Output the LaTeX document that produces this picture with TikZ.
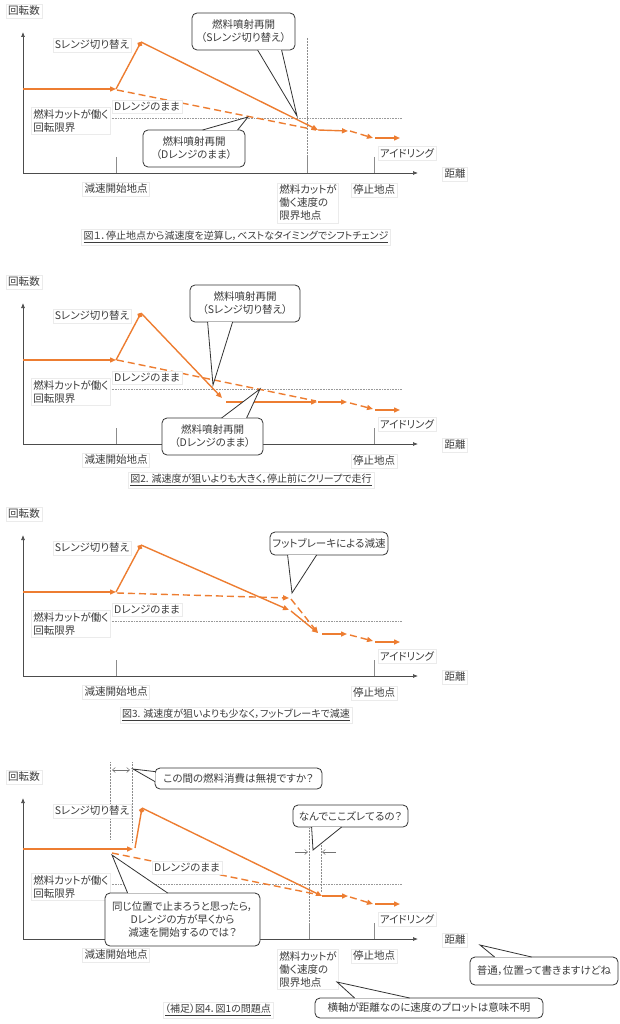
\documentclass[tikz,border=0pt]{standalone}
\usepackage{fontspec}
\setmainfont{Noto Sans CJK JP}[RawFeature=+palt]
\usetikzlibrary{arrows.meta}
\definecolor{ofcorange}{RGB}{237,125,49}
\definecolor{inkgray}{RGB}{60,60,60}
\begin{document}
\begin{tikzpicture}[x=1pt,y=-1pt,
   font=\fontsize{10.5}{13}\selectfont,text=inkgray,
   lbl/.style={draw=black!8,fill=white,inner sep=2pt,align=left},
   figcap/.style={draw=black!8,fill=white,inner sep=2pt,font=\fontsize{10}{12}\selectfont},
   bubble/.style={draw=black!80,fill=white,rounded corners=5pt,line width=0.8pt,align=center,inner sep=1pt},
   pointer/.style={draw=black!80,fill=white,line width=0.8pt},
   axisline/.style={draw=black!70,line width=0.7pt,-{Latex[length=5pt,width=4pt]}},
   tickmark/.style={draw=black!45,line width=0.7pt},
   limit/.style={draw=black!40,densely dotted,line width=0.6pt},
   guide/.style={draw=black!45,densely dotted,line width=0.5pt},
   gapmark/.style={draw=black!55,line width=0.5pt,{Straight Barb[length=3pt,width=5pt]}-{Straight Barb[length=3pt,width=5pt]}},
   inmark/.style={draw=black!55,line width=0.5pt,-{Straight Barb[length=3pt,width=5pt]}},
   run/.style={draw=ofcorange,line width=1.4pt,-{Triangle[length=6pt,width=5pt]}},
   coast/.style={run,dash pattern=on 7pt off 4pt},
   dline/.style={draw=ofcorange,line width=1.4pt,dash pattern=on 7pt off 4pt},
   peak/.style={draw=ofcorange,line width=1.4pt,-{Circle[length=5pt]}}]
\useasboundingbox (0,0) rectangle (620,1024);
\foreach \p/\dy in {1/0,2/271,3/503,4/766}{
   \begin{scope}[shift={(0,\dy)}]
   \coordinate (o\p) at (23,173);
   \coordinate (ytop\p) at (23,32);
   \coordinate (xend\p) at (418,173);
   \draw[axisline] (o\p) -- (ytop\p);
   \draw[axisline] (o\p) -- (xend\p);
   \draw[tickmark] (116,157) -- (116,173);
   \draw[tickmark] (374,157) -- (374,173);
   \draw[limit] (110,118) -- (402,118);
   \end{scope}
}
\begin{scope}
   \draw[guide] (307,38) -- (307,173);
   \draw[tickmark] (307,157) -- (307,173);
   \draw[run] (23,89) -- (116,89);
   \draw[peak] (116,89) -- (141,42);
   \draw[dline] (117,90) -- (316,130);
   \draw[run] (141,42) -- (318,130);
   \draw[run] (318,130) -- (348,131);
   \draw[coast] (350,131) -- (373,138);
   \draw[run] (375,138) -- (400,138);
\end{scope}
\begin{scope}[shift={(0,271)}]
   \draw[run] (23,89) -- (116,89);
   \draw[peak] (116,89) -- (141,42);
   \draw[dline] (117,89) -- (316,130);
   \draw[run] (141,42) -- (222,127);
   \draw[run] (226,131) -- (317,131);
   \draw[run] (318,131) -- (347,131);
   \draw[coast] (350,132) -- (373,138);
   \draw[run] (375,139) -- (400,139);
\end{scope}
\begin{scope}[shift={(0,503)}]
   \draw[run] (23,89) -- (116,89);
   \draw[peak] (116,89) -- (141,42);
   \draw[coast] (117,90) -- (289,95);
   \draw[coast] (291,96) -- (318,130);
   \draw[run] (141,42) -- (289,107);
   \draw[run] (291,108) -- (318,130);
   \draw[run] (322,131) -- (347,131);
   \draw[coast] (350,132) -- (373,138);
   \draw[run] (375,139) -- (400,139);
\end{scope}
\begin{scope}[shift={(0,766)}]
   \draw[guide] (110,-4) -- (110,74);
   \draw[guide] (132,-4) -- (132,76);
   \draw[gapmark] (112,4) -- (130,4);
   \draw[guide] (309,62) -- (309,173);
   \draw[guide] (321,62) -- (321,126);
   \draw[tickmark] (309,157) -- (309,173);
   \draw[inmark] (295,86) -- (308,86);
   \draw[inmark] (336,86) -- (322,86);
   \draw[run] (23,83) -- (133,83);
   \draw[peak] (135,82) -- (142,42);
   \draw[dline] (112,87) -- (320,129);
   \draw[run] (142,42) -- (322,130);
   \draw[run] (322,130) -- (348,130);
   \draw[coast] (350,131) -- (373,138);
   \draw[run] (375,138) -- (400,138);
\end{scope}
\foreach \p/\dy/\dx/\dly in {1/0/147/107,2/271/147/107,3/503/147/107,4/766/187/102}{
   \begin{scope}[shift={(0,\dy)}]
   \node[lbl] (rpm\p) at (24,11) {回転数};
   \node[lbl] (dist\p) at (455,174) {距離};
   \node[lbl] (start\p) at (116,189) {減速開始地点};
   \node[lbl] (stop\p) at (374,190) {停止地点};
   \node[lbl] (idle\p) at (407,153) {アイドリング};
   \node[lbl] (cut\p) at (71,121) {燃料カットが働く\\回転限界};
   \node[lbl] (srange\p) at (92,45) {Sレンジ切り替え};
   \node[lbl] (drange\p) at (\dx,\dly) {Dレンジのまま};
   \end{scope}
}
\begin{scope}
   \node[lbl] (vlimit1) at (308,203) {燃料カットが\\働く速度の\\限界地点};
   \node[bubble,minimum width=103pt,minimum height=37pt] (c1s) at (243.5,31.5) {燃料噴射再開\\（Sレンジ切り替え）};
   \coordinate (t1s) at (297,116);
   \draw[pointer] ([xshift=66pt,yshift=0.4pt]c1s.south west) -- (t1s) -- ([xshift=90pt,yshift=0.4pt]c1s.south west);
   \node[bubble,minimum width=102pt,minimum height=37pt] (c1d) at (194,148.5) {燃料噴射再開\\（Dレンジのまま）};
   \coordinate (t1d) at (248,117);
   \draw[pointer] ([xshift=60pt,yshift=-0.4pt]c1d.north west) -- (t1d) -- ([xshift=95pt,yshift=-0.4pt]c1d.north west);
   \node[figcap] (fig1) at (236,237) {\underline{図１．停止地点から減速度を逆算し，ベストなタイミングでシフトチェンジ}};
\end{scope}
\begin{scope}[shift={(0,271)}]
   \node[bubble,minimum width=110pt,minimum height=37pt] (c2s) at (245,32.5) {燃料噴射再開\\（Sレンジ切り替え）};
   \coordinate (t2s) at (213,114);
   \draw[pointer] ([xshift=18pt,yshift=0.4pt]c2s.south west) -- (t2s) -- ([xshift=43pt,yshift=0.4pt]c2s.south west);
   \node[bubble,minimum width=101pt,minimum height=37pt] (c2d) at (212.5,165.5) {燃料噴射再開\\（Dレンジのまま）};
   \coordinate (t2d) at (260,118);
   \draw[pointer] ([xshift=60pt,yshift=-0.4pt]c2d.north west) -- (t2d) -- ([xshift=85pt,yshift=-0.4pt]c2d.north west);
   \node[figcap] (fig2) at (251,209) {\underline{図2. 減速度が狙いよりも大きく，停止前にクリープで走行}};
\end{scope}
\begin{scope}[shift={(0,503)}]
   \node[bubble,minimum width=118pt,minimum height=23pt] (c3) at (329,40.5) {フットブレーキによる減速};
   \coordinate (t3) at (292,90);
   \draw[pointer] ([xshift=18pt,yshift=0.4pt]c3.south west) -- (t3) -- ([xshift=47pt,yshift=0.4pt]c3.south west);
   \node[figcap] (fig3) at (236,212) {\underline{図3. 減速度が狙いよりも少なく，フットブレーキで減速}};
\end{scope}
\begin{scope}[shift={(0,766)}]
   \node[lbl] (vlimit4) at (308,203) {燃料カットが\\働く速度の\\限界地点};
   \node[bubble,minimum width=167pt,minimum height=21pt] (c4a) at (238.5,12.5) {この間の燃料消費は無視ですか？};
   \coordinate (t4a) at (133,3);
   \draw[pointer] ([xshift=0.4pt,yshift=-4pt]c4a.north west) -- (t4a) -- ([xshift=0.4pt,yshift=-14pt]c4a.north west);
   \node[bubble,minimum width=115pt,minimum height=22pt] (c4b) at (350.5,50) {なんでここズレてるの？};
   \coordinate (t4b) at (313,84);
   \draw[pointer] ([xshift=19pt,yshift=0.4pt]c4b.south west) -- (t4b) -- ([xshift=49pt,yshift=0.4pt]c4b.south west);
   \node[bubble,minimum width=155pt,minimum height=53pt] (c4c) at (182.5,153.5) {同じ位置で止まろうと思ったら，\\Dレンジの方が早くから\\減速を開始するのでは？};
   \coordinate (t4c) at (112,89);
   \draw[pointer] ([xshift=23pt,yshift=-0.4pt]c4c.north west) -- (t4c) -- ([xshift=63pt,yshift=-0.4pt]c4c.north west);
   \node[bubble,minimum width=148pt,minimum height=28pt] (c4d) at (544,205) {普通，位置って書きますけどね};
   \coordinate (t4d) at (480,179);
   \draw[pointer] ([xshift=25pt,yshift=-0.4pt]c4d.north west) -- (t4d) -- ([xshift=62pt,yshift=-0.4pt]c4d.north west);
   \node[bubble,minimum width=228pt,minimum height=20pt] (c4e) at (429,242) {横軸が距離なのに速度のプロットは意味不明};
   \coordinate (t4e) at (337,216);
   \draw[pointer] ([xshift=40pt,yshift=-0.4pt]c4e.north west) -- (t4e) -- ([xshift=95pt,yshift=-0.4pt]c4e.north west);
   \node[figcap] (fig4) at (218,244) {\underline{（補足）図4．図1の問題点}};
\end{scope}
\end{tikzpicture}
\end{document}
